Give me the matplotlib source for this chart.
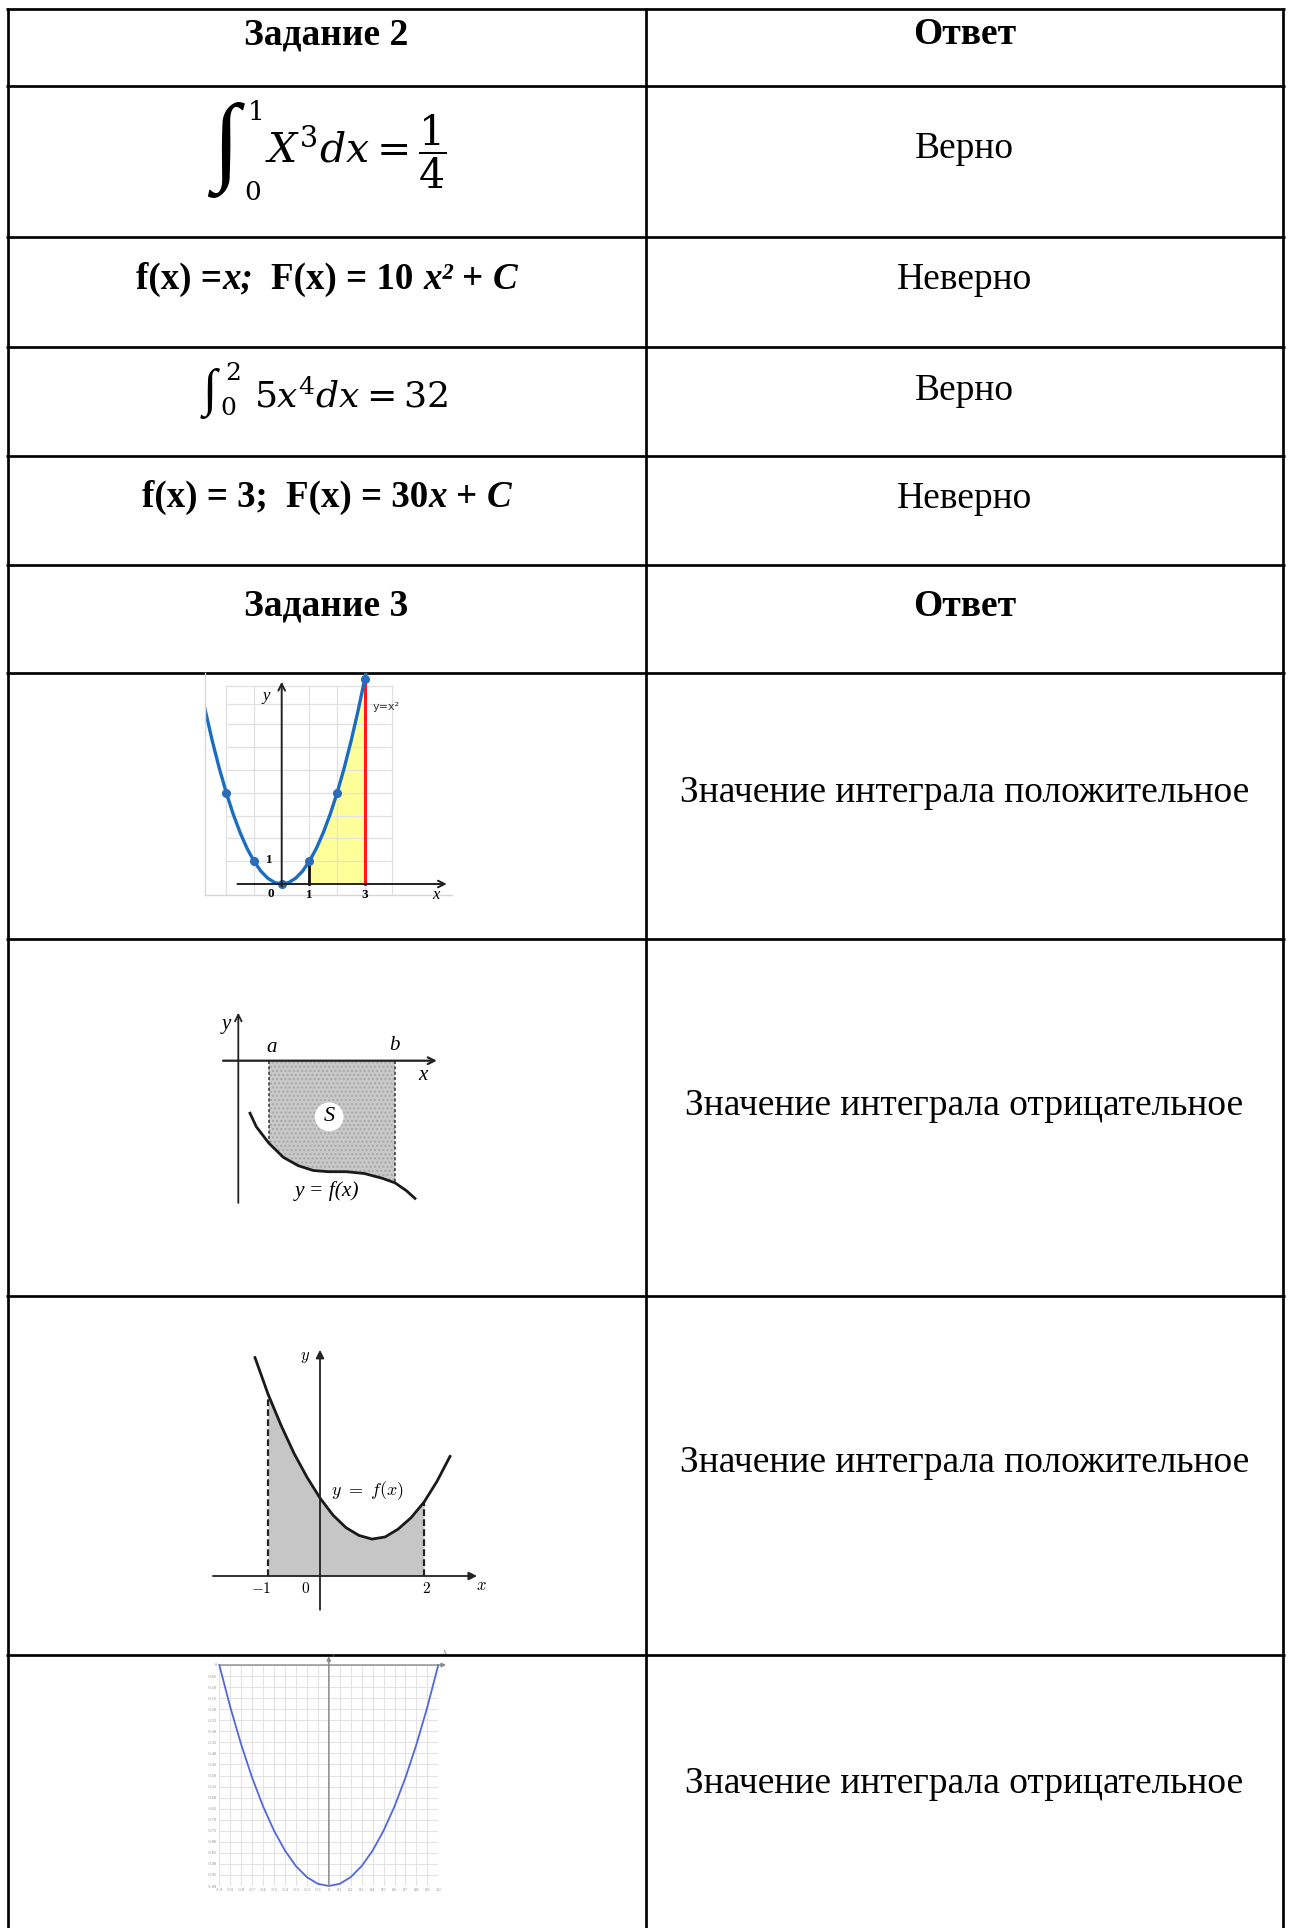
import matplotlib
matplotlib.use('Agg')
import matplotlib.pyplot as plt
import numpy as np
from matplotlib.textpath import TextPath
from matplotlib.font_manager import FontProperties

W, H = 1291, 1928
plt.rcParams['font.family'] = ['Liberation Serif', 'DejaVu Serif']
plt.rcParams['mathtext.fontset'] = 'stix'

# ---------------- data ----------------
header_task2 = 'Задание 2'
header_task3 = 'Задание 3'
header_answer = 'Ответ'
task2_answers = ['Верно', 'Неверно', 'Верно', 'Неверно']
task3_answers = ['Значение интеграла положительное',
                 'Значение интеграла отрицательное',
                 'Значение интеграла положительное',
                 'Значение интеграла отрицательное']
# integral 1: limits and integrand / result
int1_lower, int1_upper = '0', '1'
int1_body = r'$X^{3}dx = \dfrac{1}{4}$'
task2_formula2 = [('f(x) =', 'bold', 'normal'), ('x;', 'bold', 'italic'),
                  ('  F(x) = 10 ', 'bold', 'normal'), ('x²', 'bold', 'italic'),
                  (' + ', 'bold', 'normal'), ('C', 'bold', 'italic')]
# integral 2
int2_lower, int2_upper = '0', '2'
int2_body = r'$5x^{4}dx{=}32$'
task2_formula4 = [('f(x) = 3;', 'bold', 'normal'), ('  F(x) = 30', 'bold', 'normal'),
                  ('x', 'bold', 'italic'), (' + ', 'bold', 'normal'), ('C', 'bold', 'italic')]

# graph 1: y = x^2 with area from 1 to 3
g1_curve_x = [-2.77, -2.5, -2.25, -2.0, -1.75, -1.5, -1.25, -1.0, -0.75, -0.5, -0.25, 0.0,
              0.25, 0.5, 0.75, 1.0, 1.25, 1.5, 1.75, 2.0, 2.25, 2.5, 2.75, 3.0, 3.15]
g1_curve_y = [7.67, 6.25, 5.06, 4.0, 3.06, 2.25, 1.56, 1.0, 0.56, 0.25, 0.06, 0.0,
              0.06, 0.25, 0.56, 1.0, 1.56, 2.25, 3.06, 4.0, 5.06, 6.25, 7.56, 9.0, 9.92]
g1_dot_x = [-2, -1, 0, 1, 2, 3]
g1_dot_y = [4, 1, 0, 1, 4, 9]
g1_a, g1_b = 1.0, 3.0
g1_grid_x = [-2, -1, 1, 2, 3, 4]
g1_grid_y = [1, 2, 3, 4, 5, 6, 7, 7.9, 8.7]

# graph 2: curve below the x axis between a and b
g2_curve_x = [0.39, 0.6, 1.02, 1.5, 2.0, 2.5, 3.0, 3.6, 4.2, 4.8, 5.22, 5.6, 5.89]
g2_curve_y = [-1.75, -2.2, -2.75, -3.22, -3.5, -3.66, -3.7, -3.7, -3.76, -3.92, -4.07, -4.33, -4.59]
g2_a, g2_b = 1.02, 5.22

# graph 3: curve above the x axis between -1 and 2
g3_curve_x = [-1.25, -1.0, -0.75, -0.5, -0.25, 0.0, 0.25, 0.5, 0.75, 1.0, 1.25, 1.5, 1.75, 2.0, 2.25, 2.5]
g3_curve_y = [4.2, 3.5, 2.9, 2.36, 1.9, 1.5, 1.17, 0.93, 0.78, 0.71, 0.75, 0.9, 1.12, 1.42, 1.82, 2.3]
g3_a, g3_b = -1.0, 2.0

# graph 4: y = x^2 - 1 on [-1, 1]
g4_curve_x = [-1.0, -0.9, -0.8, -0.7, -0.6, -0.5, -0.4, -0.3, -0.2, -0.1, 0.0,
              0.1, 0.2, 0.3, 0.4, 0.5, 0.6, 0.7, 0.8, 0.9, 1.0]
g4_curve_y = [0.0, -0.19, -0.36, -0.51, -0.64, -0.75, -0.84, -0.91, -0.96, -0.99, -1.0,
              -0.99, -0.96, -0.91, -0.84, -0.75, -0.64, -0.51, -0.36, -0.19, 0.0]
g4_xticks = [-1.0, -0.9, -0.8, -0.7, -0.6, -0.5, -0.4, -0.3, -0.2, -0.1, 0.0,
             0.1, 0.2, 0.3, 0.4, 0.5, 0.6, 0.7, 0.8, 0.9, 1.0]
g4_xticklabels = ['-1.0', '-0.9', '-0.8', '-0.7', '-0.6', '-0.5', '-0.4', '-0.3', '-0.2', '-0.1', '0',
                  '0.1', '0.2', '0.3', '0.4', '0.5', '0.6', '0.7', '0.8', '0.9', '1.0']
g4_yticks = [0.0, -0.05, -0.10, -0.15, -0.20, -0.25, -0.30, -0.35, -0.40, -0.45, -0.50,
             -0.55, -0.60, -0.65, -0.70, -0.75, -0.80, -0.85, -0.90, -0.95, -1.00]
g4_yticklabels = ['0', '-0.05', '-0.10', '-0.15', '-0.20', '-0.25', '-0.30', '-0.35', '-0.40', '-0.45',
                  '-0.50', '-0.55', '-0.60', '-0.65', '-0.70', '-0.75', '-0.80', '-0.85', '-0.90',
                  '-0.95', '-1.00']

# ---------------- figure ----------------
PT = 0.72  # points per pixel at dpi 100
fig = plt.figure(figsize=(W / 100, H / 100), dpi=100)
ax = fig.add_axes([0, 0, 1, 1])
ax.set_xlim(0, W)
ax.set_ylim(H, 0)
ax.axis('off')

col_x = [7.7, 645.5, 1283.3]
row_y = [9, 85.5, 237, 347, 456, 565, 673, 939, 1296, 1655]
lw_tab = 2.7 * PT
for y in row_y:
    ax.plot([col_x[0] - 1.3, col_x[-1] + 1.3], [y, y], color='black', lw=lw_tab, solid_capstyle='butt')
for x in col_x:
    ax.plot([x, x], [row_y[0] - 1.3, H + 5], color='black', lw=lw_tab, solid_capstyle='butt')

cl = (col_x[0] + col_x[1]) / 2
cr = (col_x[1] + col_x[2]) / 2
FS = 37.5 * PT

# headers
ax.text(cl, 44.5, header_task2, ha='center', va='baseline', fontsize=FS, fontweight='bold')
ax.text(cr, 44.5, header_answer, ha='center', va='baseline', fontsize=FS, fontweight='bold')
ax.text(cl, 616, header_task3, ha='center', va='baseline', fontsize=FS, fontweight='bold')
ax.text(cr, 616, header_answer, ha='center', va='baseline', fontsize=FS, fontweight='bold')

for txt, yb in zip(task2_answers, [158.5, 289, 399.5, 508]):
    ax.text(cr, yb, txt, ha='center', va='baseline', fontsize=FS)
for txt, yb in zip(task3_answers, [802, 1115, 1472.5, 1793]):
    ax.text(cr, yb, txt, ha='center', va='baseline', fontsize=FS)

renderer = fig.canvas.get_renderer()


def rich_text(pieces, cx, yb, size_px):
    space = 0.25 * size_px
    items = []
    total = 0.0
    for s, weight, style in pieces:
        lead = len(s) - len(s.lstrip(' '))
        trail = len(s) - len(s.rstrip(' '))
        t = ax.text(0, yb, s.strip(' '), ha='left', va='baseline', fontsize=size_px * PT,
                    fontweight=weight, fontstyle=style)
        w = t.get_window_extent(renderer).width
        items.append((t, lead, trail, w))
        total += (lead + trail) * space + w
    x = cx - total / 2
    for t, lead, trail, w in items:
        x += lead * space
        t.set_x(x)
        x += w + trail * space


INT_FONT = ['Liberation Serif', 'DejaVu Serif']
_ink = TextPath((0, 0), '∫', size=100, prop=FontProperties(family=INT_FONT)).get_extents()


def integral(x_left, y_bottom, height, lower, upper, lim_size, lo_y, up_y, up_dx,
             body, body_x, body_base, body_size):
    fs = height * 72.0 / _ink.height          # font size (pt) giving this ink height
    s = fs / 72.0                             # px per TextPath unit
    x0 = x_left - _ink.x0 * s
    yb = y_bottom + _ink.y0 * s
    t = ax.text(x0, yb, '∫', ha='left', va='baseline', fontsize=fs, family=INT_FONT)
    bb = t.get_window_extent(renderer)
    ink_right = x0 + _ink.x1 * s
    xr = max(bb.x1, ink_right)
    ax.text(xr + 0.5, lo_y, '$' + lower + '$', ha='left', va='center', fontsize=lim_size,
            math_fontfamily='dejavuserif')
    ax.text(xr + up_dx, up_y, '$' + upper + '$', ha='left', va='center', fontsize=lim_size,
            math_fontfamily='dejavuserif')
    ax.text(body_x, body_base, body, ha='left', va='baseline', fontsize=body_size,
            math_fontfamily='dejavuserif')


integral(207, 198, 96, int1_lower, int1_upper, 19, 194, 113, 3,
         int1_body, 265, 163, 29.5)
rich_text(task2_formula2, cl, 288.6, 37)
integral(200, 419, 51, int2_lower, int2_upper, 18, 409, 374, 5,
         int2_body, 254, 407, 26)
rich_text(task2_formula4, cl, 507, 37)


def inset(left, top, right, bottom, ox, oy, ux, uy):
    a = fig.add_axes([left / W, 1 - bottom / H, (right - left) / W, (bottom - top) / H])
    a.set_xlim((left - ox) / ux, (right - ox) / ux)
    a.set_ylim((oy - bottom) / uy, (oy - top) / uy)
    a.patch.set_alpha(0)
    return a


arrow = dict(arrowstyle='->', lw=1.4, color='#222222', mutation_scale=12, shrinkA=0, shrinkB=0)

# ---- graph 1 ----
a1 = inset(205, 673, 452, 895, 281.7, 884, 27.7, 22.8)
a1.set_xticks([]); a1.set_yticks([])
for s in ['top', 'right']:
    a1.spines[s].set_visible(False)
for s in ['left', 'bottom']:
    a1.spines[s].set_color('#d6d6d6')
    a1.spines[s].set_linewidth(1)
for gx in g1_grid_x:
    a1.plot([gx, gx], [-0.47, g1_grid_y[-1]], color='#e0e0e0', lw=0.9)
for gy in g1_grid_y:
    a1.plot([g1_grid_x[0], g1_grid_x[-1]], [gy, gy], color='#e0e0e0', lw=0.9)
cx1 = np.array(g1_curve_x); cy1 = np.array(g1_curve_y)
a1.fill_between(cx1, cy1, 0, where=(cx1 >= g1_a) & (cx1 <= g1_b), color='#ffff99', lw=0)
a1.annotate('', xy=(5.96, 0), xytext=(-1.6, 0), arrowprops=arrow)
a1.annotate('', xy=(0, 8.87), xytext=(0, -0.1), arrowprops=arrow)
a1.plot([g1_b, g1_b], [0, g1_dot_y[-1]], color='#ff1a1a', lw=2.2)
a1.plot([g1_a, g1_a], [0, g1_dot_y[3]], color='#111111', lw=2.0)
a1.plot(cx1, cy1, color='#1b6dbf', lw=2.4)
a1.plot(g1_dot_x, g1_dot_y, 'o', color='#2a6cb8', ms=5.5)
a1.text(-0.55, 8.25, 'y', fontsize=12, fontstyle='italic', ha='center', va='center')
a1.text(5.55, -0.5, 'x', fontsize=12, fontstyle='italic', ha='center', va='center')
a1.text(-0.38, -0.42, '0', fontsize=9.5, fontweight='bold', ha='center', va='center')
a1.text(1.0, -0.5, '1', fontsize=9.5, fontweight='bold', ha='center', va='center')
a1.text(3.0, -0.5, '3', fontsize=9.5, fontweight='bold', ha='center', va='center')
a1.text(-0.45, 1.05, '1', fontsize=9.5, fontweight='bold', ha='center', va='center')
a1.text(3.3, 7.75, 'y=x²', fontsize=8, family='DejaVu Sans', ha='left', va='center', color='#333333')

# ---- graph 2 ----
a2 = inset(205, 990, 455, 1245, 238.3, 1060.7, 30, 30)
a2.axis('off')
cx2 = np.array(g2_curve_x); cy2 = np.array(g2_curve_y)
a2.fill_between(cx2, cy2, 0, where=(cx2 >= g2_a - 1e-9) & (cx2 <= g2_b + 1e-9),
                facecolor='#c9c9c9', edgecolor='#a8a8a8', hatch='....', lw=0)
a2.annotate('', xy=(6.62, 0), xytext=(-0.51, 0), arrowprops=dict(arrow, lw=1.6))
a2.annotate('', xy=(0, 1.6), xytext=(0, -4.74), arrowprops=dict(arrow, lw=1.3))
ia = g2_curve_x.index(g2_a); ib = g2_curve_x.index(g2_b)
a2.plot([g2_a, g2_a], [0, g2_curve_y[ia]], color='#333333', lw=1.1, ls=(0, (2, 1.5)))
a2.plot([g2_b, g2_b], [0, g2_curve_y[ib]], color='#333333', lw=1.1, ls=(0, (2, 1.5)))
a2.plot(cx2, cy2, color='#1a1a1a', lw=2.0)
a2.text(-0.39, 1.2, 'y', fontsize=15, fontstyle='italic', ha='center', va='center')
a2.text(6.16, -0.5, 'x', fontsize=15, fontstyle='italic', ha='center', va='center')
a2.text(1.11, 0.45, 'a', fontsize=15, fontstyle='italic', ha='center', va='center')
a2.text(5.19, 0.5, 'b', fontsize=15, fontstyle='italic', ha='center', va='center')
a2.text(3.03, -1.87, 'S', fontsize=16, fontstyle='italic', ha='center', va='center',
        bbox=dict(boxstyle='circle,pad=0.22', fc='white', ec='none'))
a2.text(2.95, -4.33, 'y = f(x)', fontsize=15.5, fontstyle='italic', ha='center', va='center')

# ---- graph 3 ----
a3 = inset(200, 1340, 490, 1620, 320, 1576, 52, 52)
a3.axis('off')
cx3 = np.array(g3_curve_x); cy3 = np.array(g3_curve_y)
a3.fill_between(cx3, cy3, 0, where=(cx3 >= g3_a) & (cx3 <= g3_b), color='#c6c6c6', lw=0)
a3.annotate('', xy=(3.02, 0), xytext=(-2.06, 0), arrowprops=dict(arrow, arrowstyle='-|>', lw=1.3))
a3.annotate('', xy=(0, 4.35), xytext=(0, -0.65), arrowprops=dict(arrow, arrowstyle='-|>', lw=1.3))
ja = g3_curve_x.index(g3_a); jb = g3_curve_x.index(g3_b)
a3.plot([g3_a, g3_a], [0, g3_curve_y[ja]], color='#222222', lw=1.6, ls=(0, (3, 1.5)))
a3.plot([g3_b, g3_b], [0, g3_curve_y[jb]], color='#222222', lw=1.6, ls=(0, (3, 1.5)))
a3.plot(cx3, cy3, color='#1a1a1a', lw=2.0)
a3.text(-0.29, 4.22, r'$y$', fontsize=12, math_fontfamily='cm', ha='center', va='center')
a3.text(3.1, -0.2, r'$x$', fontsize=12, math_fontfamily='cm', ha='center', va='center')
a3.text(-1.13, -0.24, r'$\mathbf{-1}$', fontsize=11, math_fontfamily='cm', ha='center', va='center')
a3.text(-0.27, -0.24, r'$\mathbf{0}$', fontsize=11, math_fontfamily='cm', ha='center', va='center')
a3.text(2.05, -0.24, r'$\mathbf{2}$', fontsize=11, math_fontfamily='cm', ha='center', va='center')
a3.text(0.92, 1.65, r'$y\ =\ f(x)$', fontsize=13, math_fontfamily='cm', ha='center', va='center')

# ---- graph 4 ----
a4 = inset(219.3, 1665, 438.3, 1886, 328.8, 1665, 109.5, 221)
for s in a4.spines.values():
    s.set_visible(False)
a4.set_xticks(g4_xticks)
a4.set_xticklabels(g4_xticklabels)
a4.set_yticks(g4_yticks)
a4.set_yticklabels(g4_yticklabels)
a4.tick_params(length=0, labelsize=3.2, labelcolor='#8a8a8a', pad=1.5)
a4.grid(True, color='#e3e3e3', lw=0.8)
a4.set_axisbelow(True)
a4.annotate('', xy=(1.07, 0), xytext=(-1.0, 0),
            arrowprops=dict(arrowstyle='-|>', lw=1.0, color='#888888', mutation_scale=6, shrinkA=0, shrinkB=0),
            annotation_clip=False)
a4.annotate('', xy=(0, 0.04), xytext=(0, -1.0),
            arrowprops=dict(arrowstyle='-|>', lw=1.0, color='#888888', mutation_scale=6, shrinkA=0, shrinkB=0),
            annotation_clip=False)
a4.text(0.03, 0.04, 'Y', fontsize=3.5, color='#777777', ha='left', va='center', clip_on=False)
a4.text(1.06, 0.055, 'X', fontsize=4, color='#777777', ha='center', va='center', clip_on=False)
a4.plot(g4_curve_x, g4_curve_y, color='#5068dc', lw=1.3, clip_on=False)

fig.savefig('out.png', dpi=100)
